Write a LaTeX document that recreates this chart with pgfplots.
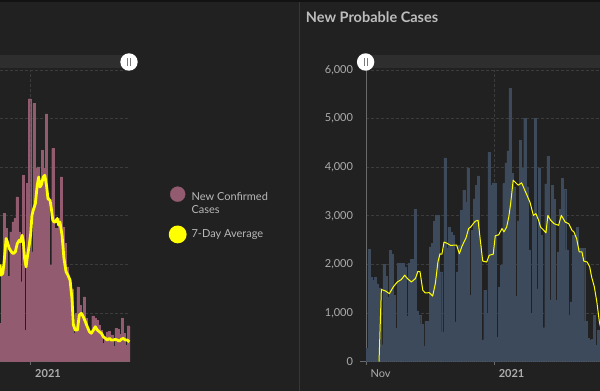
\documentclass[border=0pt]{standalone}
\usepackage{fontspec}
\setmainfont{Lato}
\usepackage{pgfplots}
\pgfplotsset{compat=1.18}
\definecolor{bg}{HTML}{212121}
\definecolor{topband}{HTML}{121212}
\definecolor{divider}{HTML}{363636}
\definecolor{slider}{HTML}{2E2E2E}
\definecolor{gridc}{HTML}{3C3C3C}
\definecolor{axisc}{HTML}{6A6A6A}
\definecolor{txt}{HTML}{ADADAD}
\definecolor{titlec}{HTML}{BDBDBD}
\definecolor{legtxt}{HTML}{B8B8B8}
\definecolor{pinkbar}{HTML}{925B70}
\definecolor{bluebar}{HTML}{3D4A5B}
\definecolor{avg}{HTML}{FFFF00}
\definecolor{handleline}{HTML}{7A7A7A}

\pgfplotstableread{
x y
-14.5 1575
-13.5 3700
-12.5 6100
-11.5 5480
-10.5 3500
-9.5 5340
-8.5 5750
-7.5 5890
-6.5 6780
-5.5 5340
-4.5 3290
-3.5 7670
-2.5 1300
-1.5 7330
-0.5 10820
0.5 4520
1.5 10620
2.5 7950
3.5 8010
4.5 7400
5.5 8700
6.5 7950
7.5 10200
8.5 6780
9.5 3970
10.5 8770
11.5 5480
12.5 5480
13.5 5890
14.5 7600
15.5 5550
16.5 4860
17.5 3900
18.5 3290
19.5 3000
20.5 1160
21.5 1990
22.5 3080
23.5 2330
24.5 1920
25.5 2670
26.5 1780
27.5 1230
28.5 1230
29.5 1890
30.5 1780
31.5 1710
32.5 1510
33.5 1300
34.5 750
35.5 960
36.5 1230
37.5 1260
38.5 1100
39.5 620
40.5 1370
41.5 1340
42.5 1120
43.5 1780
44.5 1160
45.5 685
46.5 1480
47.5 1440
}\confirmed

\pgfplotstableread{
x y
-14.6 4000
-14.1 3560
-13.3 3630
-12.7 4040
-11.7 5070
-11.1 4930
-10.2 4660
-9.2 4520
-8.3 4450
-7.3 4520
-6.4 4860
-5.4 5000
-4.8 4930
-4.1 5200
-3.5 4930
-2.9 4250
-2.2 3900
-1.6 4310
-0.7 4790
0.0 5270
0.6 6030
1.2 6230
2.2 6500
3.1 7260
3.8 7600
4.4 7190
5.0 7260
6.0 7600
6.7 7670
7.6 7190
8.2 6700
9.2 6640
9.8 6300
10.5 5820
11.1 5750
11.7 5750
12.6 5890
13.3 5620
13.9 5750
14.9 5200
15.8 4250
16.8 3700
17.7 3560
18.7 3360
19.6 2600
20.3 1510
21.2 1300
22.2 1300
23.1 1920
24.1 1990
25.0 1850
26.0 1640
26.9 1440
27.9 1233
28.8 1170
29.8 1300
30.7 1440
31.7 1300
32.6 1233
33.6 1170
34.5 1028
35.5 960
36.4 890
37.4 960
38.3 890
39.3 890
40.2 920
41.2 890
42.1 850
43.1 920
44.0 960
45.0 890
45.9 890
46.9 820
}\confavg

\pgfplotstableread{
x y
0.5 275
1.5 2310
2.5 1730
3.5 1680
4.5 1730
5.5 1600
6.5 1520
7.5 350
8.5 2000
9.5 1760
10.5 1320
11.5 2290
12.5 2220
13.5 1370
14.5 680
15.5 2030
16.5 2030
17.5 2030
18.5 1950
19.5 930
20.5 2030
21.5 2100
22.5 2100
23.5 3130
24.5 1045
25.5 960
26.5 770
27.5 310
28.5 835
29.5 835
30.5 2360
31.5 2440
32.5 2890
33.5 3010
34.5 3010
35.5 1850
36.5 615
37.5 4190
38.5 2330
39.5 2770
40.5 2670
41.5 2600
42.5 820
43.5 1850
44.5 2400
45.5 3120
46.5 3530
47.5 3280
48.5 3975
49.5 1370
50.5 2700
51.5 3350
52.5 3630
53.5 3820
54.5 2400
55.5 450
56.5 1470
57.5 1000
58.5 4300
59.5 3630
60.5 3680
61.5 3680
62.5 500
63.5 1540
64.5 1985
65.5 3665
66.5 4090
67.5 4336
68.5 5618
69.5 3877
70.5 3600
71.5 1340
72.5 2900
73.5 4556
74.5 3975
75.5 5002
76.5 3600
77.5 2300
78.5 1000
79.5 3000
80.5 5010
81.5 1500
82.5 3990
83.5 2600
84.5 700
85.5 3660
86.5 4230
87.5 1270
88.5 3630
89.5 3340
90.5 1270
91.5 2260
92.5 3140
93.5 3770
94.5 3550
95.5 2300
96.5 960
97.5 1230
98.5 2600
99.5 2600
100.5 2770
101.5 2330
102.5 2330
103.5 2330
104.5 835
105.5 480
106.5 445
107.5 460
108.5 960
109.5 340
110.5 650
111.5 650
}\probable

\pgfplotstableread{
x y
6.2 0
7.3 1485
9.2 1457
11.1 1400
13.0 1540
14.9 1640
16.8 1690
18.4 1780
19.7 1710
21.6 1640
23.5 1710
24.7 1860
25.7 1850
27.0 1470
28.2 1415
30.1 1420
31.7 1350
33.0 1610
34.2 2050
35.2 2220
36.1 2210
37.1 2460
38.4 2440
40.3 2390
42.2 2400
43.1 2400
44.4 2220
45.6 2370
47.6 2550
48.8 2740
49.8 2770
51.0 2840
52.0 2890
53.3 2910
55.5 2070
57.4 2050
58.6 2190
60.5 2210
61.5 2590
63.1 2610
64.7 2740
65.6 2670
66.9 2770
67.9 2975
68.8 3250
70.0 3734
72.4 3630
74.0 3680
76.4 3440
78.0 3280
79.6 3010
80.8 3045
82.1 2910
83.0 2770
84.3 2715
85.6 2650
86.5 3010
87.8 2910
89.4 2840
91.6 2805
92.9 3010
94.8 2870
96.4 2840
98.0 2700
98.9 2670
100.2 2530
101.4 2260
102.7 2260
103.6 2070
105.2 2050
106.4 1950
107.3 1745
108.6 1540
109.8 1230
111.0 820
111.6 700
}\probavg

\begin{document}
\begin{tikzpicture}[x=1pt,y=1pt]
\useasboundingbox (0,0) rectangle (600,391);
\fill[bg] (0,0) rectangle (600,391);
\fill[topband] (0,389) rectangle (600,391);
\draw[divider, line width=1pt] (299.3,0) -- (299.3,389);
\fill[slider] (0,323) rectangle (129,336);
\fill[slider] (366,323) rectangle (600,336);

\node[anchor=base west, inner sep=0pt, text=titlec, font=\fontsize{14.5}{16}\selectfont\bfseries] at (305.7,368.3) {New Probable Cases};

% ---------- left chart ----------
\begin{axis}[
  at={(0pt,29.3pt)}, anchor=south west, scale only axis,
  width=130pt, height=291.7pt,
  xmin=-14.6, xmax=47.2, ymin=0, ymax=12000,
  scaled y ticks=false,
  axis lines*=left,
  x axis line style={axisc, line width=0.8pt},
  y axis line style={draw=none},
  xtick={0}, xticklabels={\textbf{2021}},
  ytick={0,2000,...,12000}, yticklabels={},
  ytick style={draw=none},
  xtick style={axisc, line width=0.8pt},
  tick align=outside, major tick length=3.5pt,
  xmajorgrids, ymajorgrids,
  grid style={gridc, dash pattern=on 3pt off 2pt, line width=0.8pt},
  xticklabel style={anchor=west, text=txt, font=\fontsize{11}{13}\selectfont, xshift=1pt, yshift=-8pt},
  legend style={at={(axis description cs:1.2985,0.6006)}, anchor=north west,
    draw=none, fill=none, text=legtxt, inner sep=0pt, outer sep=0pt,
    font=\fontsize{11}{12.5}\selectfont, row sep=15pt, column sep=3pt,
    nodes={inner sep=2pt}},
  legend cell align=left,
]
\addplot[ybar, bar width=1, bar shift=0pt, fill=pinkbar, draw=pinkbar, line width=0.3pt,
  legend image code/.code={\fill[pinkbar] (0pt,6pt) circle (7.5pt);}]
  table[x=x,y=y] {\confirmed};
\addlegendentry{\begin{tabular}{@{}l@{}}New Confirmed\\Cases\end{tabular}}
\addplot[avg, line width=2.8pt, line join=round, mark=none,
  legend image code/.code={\fill[avg] (0pt,0pt) circle (7.5pt);}]
  table[x=x,y=y] {\confavg};
\addlegendentry{7-Day Average}
\end{axis}

% ---------- right chart ----------
\begin{axis}[
  at={(366pt,29.3pt)}, anchor=south west, scale only axis,
  width=234pt, height=291.7pt,
  xmin=0, xmax=111.3, ymin=0, ymax=6000,
  axis lines*=left,
  axis line style={axisc, line width=0.8pt},
  xtick={0,61}, xticklabels={Nov,\textbf{2021}},
  ytick={0,1000,...,6000},
  ytick style={draw=none},
  xtick style={axisc, line width=0.8pt},
  tick align=outside, major tick length=3.5pt,
  xmajorgrids, ymajorgrids,
  grid style={gridc, dash pattern=on 3pt off 2pt, line width=0.8pt},
  xticklabel style={anchor=west, text=txt, font=\fontsize{11}{13}\selectfont, xshift=1pt, yshift=-8pt},
  yticklabel style={text=txt, font=\fontsize{11}{13}\selectfont, xshift=-6pt},
  /pgf/number format/1000 sep={,},
  /pgf/number format/assume math mode=true,
]
\addplot[ybar, bar width=1, bar shift=0pt, fill=bluebar, draw=bluebar, line width=0.3pt]
  table[x=x,y=y] {\probable};
\addplot[avg, line width=1pt, line join=round, mark=none]
  table[x=x,y=y] {\probavg};
\end{axis}

\draw[axisc, line width=0.8pt] (360,29.3) -- (366,29.3);

% slider handles
\fill[white] (129,329) circle (8.7);
\draw[handleline, line width=0.7pt] (127.7,325) -- (127.7,333) (130.3,325) -- (130.3,333);
\fill[white] (365.6,329) circle (8.7);
\draw[handleline, line width=0.7pt] (364.3,325) -- (364.3,333) (366.9,325) -- (366.9,333);
\end{tikzpicture}
\end{document}
